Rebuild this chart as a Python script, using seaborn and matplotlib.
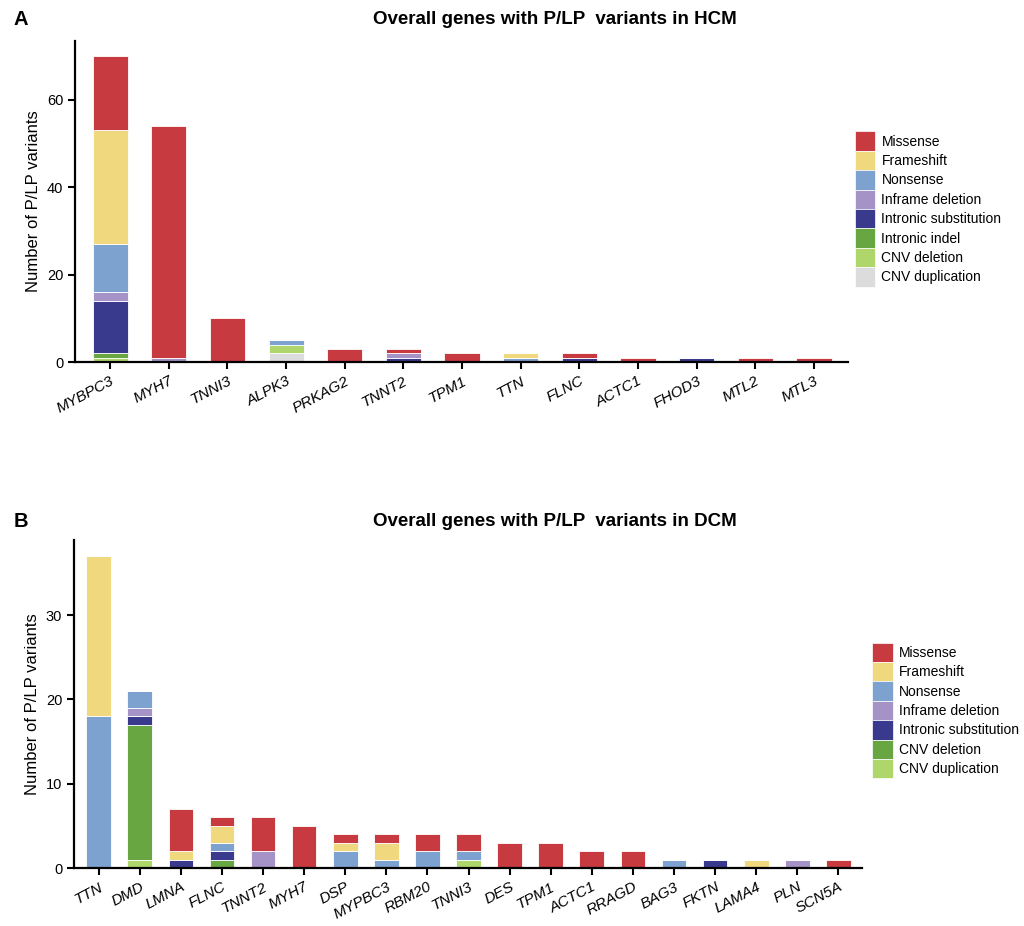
import numpy as np
import pandas as pd
import matplotlib
matplotlib.use("Agg")
import matplotlib.pyplot as plt
from matplotlib.patches import Patch
import seaborn as sns

# ---- data: HCM ----
hcm_genes = ["MYBPC3", "MYH7", "TNNI3", "ALPK3", "PRKAG2", "TNNT2", "TPM1",
             "TTN", "FLNC", "ACTC1", "FHOD3", "MTL2", "MTL3"]
hcm_missense = [17, 53, 10, 0, 3, 1, 2, 0, 1, 1, 0, 1, 1]
hcm_frameshift = [26, 0, 0, 0, 0, 0, 0, 1, 0, 0, 0, 0, 0]
hcm_nonsense = [11, 0, 0, 1, 0, 0, 0, 1, 0, 0, 0, 0, 0]
hcm_inframe = [2, 1, 0, 0, 0, 1, 0, 0, 0, 0, 0, 0, 0]
hcm_intronic_sub = [12, 0, 0, 0, 0, 1, 0, 0, 1, 0, 1, 0, 0]
hcm_intronic_indel = [1, 0, 0, 0, 0, 0, 0, 0, 0, 0, 0, 0, 0]
hcm_cnv_del = [1, 0, 0, 2, 0, 0, 0, 0, 0, 0, 0, 0, 0]
hcm_cnv_dup = [0, 0, 0, 2, 0, 0, 0, 0, 0, 0, 0, 0, 0]

# ---- data: DCM ----
dcm_genes = ["TTN", "DMD", "LMNA", "FLNC", "TNNT2", "MYH7", "DSP", "MYPBC3",
             "RBM20", "TNNI3", "DES", "TPM1", "ACTC1", "RRAGD", "BAG3", "FKTN",
             "LAMA4", "PLN", "SCN5A"]
dcm_missense = [0, 0, 5, 1, 4, 5, 1, 1, 2, 2, 3, 3, 2, 2, 0, 0, 0, 0, 1]
dcm_frameshift = [19, 0, 1, 2, 0, 0, 1, 2, 0, 0, 0, 0, 0, 0, 0, 0, 1, 0, 0]
dcm_nonsense = [18, 2, 0, 1, 0, 0, 2, 1, 2, 1, 0, 0, 0, 0, 1, 0, 0, 0, 0]
dcm_inframe = [0, 1, 0, 0, 2, 0, 0, 0, 0, 0, 0, 0, 0, 0, 0, 0, 0, 1, 0]
dcm_intronic_sub = [0, 1, 1, 1, 0, 0, 0, 0, 0, 0, 0, 0, 0, 0, 0, 1, 0, 0, 0]
dcm_cnv_del = [0, 16, 0, 1, 0, 0, 0, 0, 0, 0, 0, 0, 0, 0, 0, 0, 0, 0, 0]
dcm_cnv_dup = [0, 1, 0, 0, 0, 0, 0, 0, 0, 1, 0, 0, 0, 0, 0, 0, 0, 0, 0]

hcm_types = ["Missense", "Frameshift", "Nonsense", "Inframe deletion",
             "Intronic substitution", "Intronic indel", "CNV deletion", "CNV duplication"]
dcm_types = ["Missense", "Frameshift", "Nonsense", "Inframe deletion",
             "Intronic substitution", "CNV deletion", "CNV duplication"]

colors = ["#C73A40", "#F0D87E", "#7DA2CF", "#A593C7", "#393A8D",
          "#68A642", "#AED66A", "#DCDCDC"]

hcm_counts = [hcm_missense, hcm_frameshift, hcm_nonsense, hcm_inframe,
              hcm_intronic_sub, hcm_intronic_indel, hcm_cnv_del, hcm_cnv_dup]
dcm_counts = [dcm_missense, dcm_frameshift, dcm_nonsense, dcm_inframe,
              dcm_intronic_sub, dcm_cnv_del, dcm_cnv_dup]


def long_table(genes, types, counts):
    rows = []
    for t, vals in zip(types, counts):
        for i, v in enumerate(vals):
            if v > 0:
                rows.append({"pos": i, "type": t, "n": v})
    return pd.DataFrame(rows)


sns.set_style("ticks")
plt.rcParams["font.family"] = ["Liberation Sans", "DejaVu Sans"]
plt.rcParams["text.color"] = "black"
plt.rcParams["axes.labelcolor"] = "black"
plt.rcParams["xtick.color"] = "black"
plt.rcParams["ytick.color"] = "black"
plt.rcParams["axes.edgecolor"] = "black"

fig = plt.figure(figsize=(10.24, 9.26), dpi=100)
ax1 = fig.add_axes([0.0732, 0.609, 0.7549, 0.3468])
ax2 = fig.add_axes([0.0723, 0.0626, 0.7697, 0.3543])


def draw(ax, genes, types, counts, ymax, ticks, title, letter, title_y, leg_x, leg_y):
    df = long_table(genes, types, counts)
    pal = dict(zip(types, colors[:len(types)]))
    sns.histplot(data=df, x="pos", weights="n", hue="type", hue_order=types,
                 multiple="stack", discrete=True, shrink=0.6, palette=pal,
                 alpha=1, edgecolor="white", linewidth=0.6, legend=False, ax=ax)
    ax.set_xlim(-0.6, len(genes) - 1 + 0.58)
    ax.set_ylim(0, ymax)
    ax.set_yticks(ticks)
    ax.set_xticks(range(len(genes)))
    ax.set_xticklabels(genes, rotation=28, ha="right", rotation_mode="anchor",
                       style="italic", fontsize=11)
    ax.tick_params(axis="y", labelsize=10.5, width=1.5, length=5)
    ax.tick_params(axis="x", width=1.5, length=5)
    ax.set_xlabel("")
    ax.set_ylabel("Number of P/LP variants", fontsize=12)
    for s in ["left", "bottom"]:
        ax.spines[s].set_linewidth(1.6)
    sns.despine(ax=ax)
    fig.text(0.542, title_y, title, fontsize=13.5, fontweight="bold",
             ha="center", va="center")
    fig.text(0.013, title_y, letter, fontsize=14.5, fontweight="bold",
             ha="left", va="center")
    handles = [Patch(facecolor=pal[t], edgecolor="white", linewidth=0.5) for t in types]
    fig.legend(handles, types, loc="upper left", bbox_to_anchor=(leg_x, leg_y),
               frameon=False, fontsize=10, handlelength=1.45, handleheight=1.77,
               handletextpad=0.45, labelspacing=0.0, borderpad=0, borderaxespad=0)


draw(ax1, hcm_genes, hcm_types, hcm_counts, 73.5, [0, 20, 40, 60],
     "Overall genes with P/LP  variants in HCM", "A", 0.979, 0.835, 0.858)
draw(ax2, dcm_genes, dcm_types, dcm_counts, 38.9, [0, 10, 20, 30],
     "Overall genes with P/LP  variants in DCM", "B", 0.437, 0.852, 0.306)

fig.savefig("out.png", dpi=100)
